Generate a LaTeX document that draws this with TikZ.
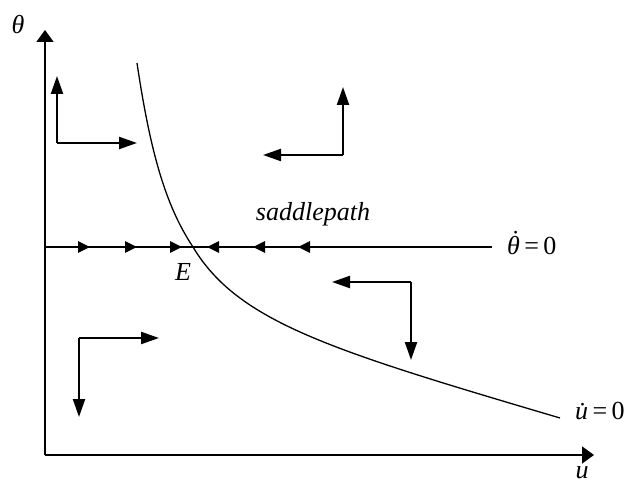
\documentclass[tikz,border=0pt]{standalone}
\usepackage{fontspec}
\setmainfont{Liberation Serif}
\usetikzlibrary{arrows.meta}
\newcommand{\dotabove}[1]{{\setbox0\hbox{#1}\rlap{\hbox to\wd0{\hss\kern0.16em\raisebox{0.2em}{\upshape ˙}\hss}}\box0}}
\begin{document}
\begin{tikzpicture}[x=1pt,y=-1pt,
  axis/.style={line width=1.8pt,-{Triangle[length=12pt,width=17pt]}},
  phase/.style={line width=2.2pt,-{Triangle[length=18pt,width=12pt]}},
  saddle/.style={line width=2.6pt,-{Triangle[length=12pt,width=11pt]}},
  thinline/.style={line width=1.3pt},
  lbl/.style={font=\fontsize{26}{30}\selectfont,inner sep=0pt}]
\useasboundingbox (0,0) rectangle (636,486);
% axes
\coordinate (O) at (45,455);
\coordinate (Ytip) at (45,30);
\coordinate (Xtip) at (594,455);
\draw[axis] (O) -- (Ytip);
\draw[axis] (O) -- (Xtip);
\node[lbl] (th) at (18,25) {\itshape θ};
\node[lbl] (uu) at (582,473) {\itshape u};
% theta-dot = 0 line
\coordinate (L0) at (45,247);
\coordinate (L1) at (492,247);
\draw[thinline] (L0) -- (L1);
\node[lbl,anchor=west] (thdot) at (507,243) {\dotabove{\itshape θ}\,=\,0};
% u-dot = 0 curve
\coordinate (C0) at (137,63);
\coordinate (CE) at (193,247);
\coordinate (C1) at (560,418);
\draw[thinline] (C0) .. controls (150,150) and (165,205) .. (CE)
  .. controls (238,322) and (330,350) .. (C1);
\node[lbl,anchor=west] (udot) at (575,411) {\itshape u̇\,\upshape=\,0};
\node[lbl] (E) at (183,272) {\itshape E};
\node[lbl] (sp) at (313,214) {\itshape saddlepath};
% saddle path arrows
\foreach \a/\b [count=\i] in {67/90,113/137,158/182}{
  \coordinate (r\i a) at (\a,247); \coordinate (r\i b) at (\b,247);
  \draw[saddle] (r\i a) -- (r\i b);}
\foreach \a/\b [count=\i] in {228/207,274/253,332/298}{
  \coordinate (l\i a) at (\a,247); \coordinate (l\i b) at (\b,247);
  \draw[saddle] (l\i a) -- (l\i b);}
% phase arrows
\coordinate (A) at (57,143);
\coordinate (Au) at (57,76);
\coordinate (Ar) at (137,143);
\draw[phase] (A) -- (Au);
\draw[phase] (A) -- (Ar);
\coordinate (B) at (343,155);
\coordinate (Bu) at (343,87);
\coordinate (Bl) at (263,155);
\draw[phase] (B) -- (Bu);
\draw[phase] (B) -- (Bl);
\coordinate (C) at (79,338);
\coordinate (Cr) at (159,338);
\coordinate (Cd) at (79,417);
\draw[phase] (C) -- (Cr);
\draw[phase] (C) -- (Cd);
\coordinate (D) at (411,282);
\coordinate (Dl) at (332,282);
\coordinate (Dd) at (411,360);
\draw[phase] (D) -- (Dl);
\draw[phase] (D) -- (Dd);
\end{tikzpicture}
\end{document}
